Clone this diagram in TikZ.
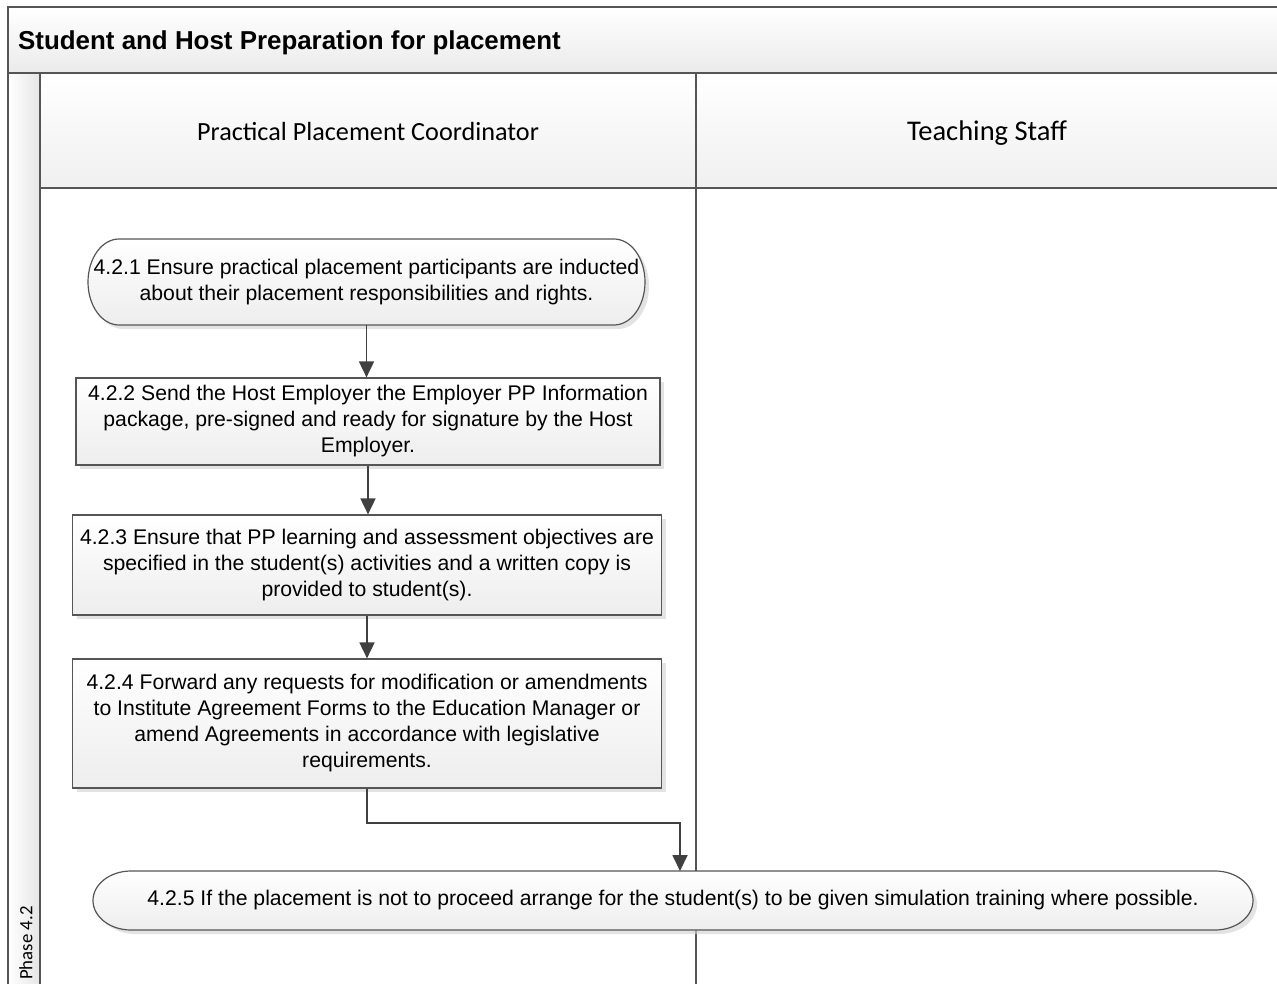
\documentclass[tikz,border=0pt]{standalone}
\usepackage{fontspec}
\setmainfont{Liberation Sans}
\newfontfamily\bodyfont{Liberation Sans}
\newfontfamily\lanefont{Carlito}
\usetikzlibrary{arrows.meta,shadows}
\definecolor{edge}{HTML}{555555}
\definecolor{conncol}{HTML}{404040}
\begin{document}
\begin{tikzpicture}[x=1pt,y=-1pt,
  frameline/.style={draw=edge,line width=1.6pt},
  lanehead/.style={frameline,top color=white,bottom color=black!6},
  boxlook/.style={draw=edge,line width=1.2pt,top color=white,bottom color=black!7,
    drop shadow={shadow xshift=4pt,shadow yshift=-4pt,fill=black!18,opacity=0.6}},
  boxtext/.style={align=center,inner sep=0pt,font=\bodyfont\fontsize{21.2}{26}\selectfont},
  procbox/.style={boxlook,boxtext},
  conn/.style={draw=conncol,line width=1.8pt,-{Triangle[length=16pt,width=15pt]}}]
\useasboundingbox (0,0) rectangle (1277,983);
\begin{scope}
\clip (0,0) rectangle (1277,983);
% title bar
\path[frameline,top color=white,bottom color=black!8] (8,7) rectangle (1290,73);
\node[anchor=base west,inner sep=0pt,font=\bfseries\fontsize{25.9}{30}\selectfont] (title) at (18,49) {Student and Host Preparation for placement};
% phase column
\path[frameline,left color=white,right color=black!10] (8,73) rectangle (40,995);
\node[rotate=90,anchor=west,inner sep=0pt,font=\lanefont\fontsize{18.8}{22}\selectfont] (phase) at (26,980) {Phase 4.2};
% lane headers
\path[lanehead] (40,73) rectangle (696,188);
\path[lanehead] (696,73) rectangle (1290,188);
\node[anchor=base,font=\lanefont\fontsize{26.2}{30}\selectfont] (lane1) at (368,140) {Practical Placement Coordinator};
\node[anchor=base,font=\lanefont\fontsize{28.5}{32}\selectfont] (lane2) at (987,140) {Teaching Staff};
% lane bodies
\draw[frameline] (40,188) -- (40,995);
\draw[frameline] (696,188) -- (696,995);
\end{scope}
% terminator 4.2.1 (elliptic ends)
\path[boxlook] (119,239) -- (614,239)
  arc[start angle=90,end angle=-90,x radius=31pt,y radius=43pt] -- (119,325)
  arc[start angle=270,end angle=90,x radius=31pt,y radius=43pt] -- cycle;
\node[boxtext,minimum width=557pt,minimum height=86pt] (n1) at (366.5,282)
  {4.2.1 Ensure practical placement participants are inducted\\about their placement responsibilities and rights.};
% process nodes
\node[procbox,minimum width=584pt,minimum height=87pt] (n2) at (368,421.5)
  {4.2.2 Send the Host Employer the Employer PP Information\\package, pre-signed and ready for signature by the Host\\Employer.};
\node[procbox,minimum width=589pt,minimum height=100pt] (n3) at (367,565)
  {4.2.3 Ensure that PP learning and assessment objectives are\\specified in the student(s) activities and a written copy is\\provided to student(s).};
\node[procbox,minimum width=589pt,minimum height=129pt] (n4) at (367,723.5)
  {4.2.4 Forward any requests for modification or amendments\\to Institute Agreement Forms to the Education Manager or\\amend Agreements in accordance with legislative\\requirements.};
% terminator 4.2.5
\path[boxlook] (131,871) -- (1215,871)
  arc[start angle=90,end angle=-90,x radius=38pt,y radius=29.5pt] -- (131,930)
  arc[start angle=270,end angle=90,x radius=38pt,y radius=29.5pt] -- cycle;
\node[boxtext,minimum width=1160pt,minimum height=59pt] (n5) at (673,900.5)
  {4.2.5 If the placement is not to proceed arrange for the student(s) to be given simulation training where possible.};
\coordinate (c5) at (680,871);
% connectors
\draw[conn] (n1.south) -- (n1.south |- n2.north);
\draw[conn] (n2.south) -- (n2.south |- n3.north);
\draw[conn] (n3.south) -- (n3.south |- n4.north);
\draw[conn] (n4.south) -- ++(0,34) -| (c5);
\end{tikzpicture}
\end{document}
